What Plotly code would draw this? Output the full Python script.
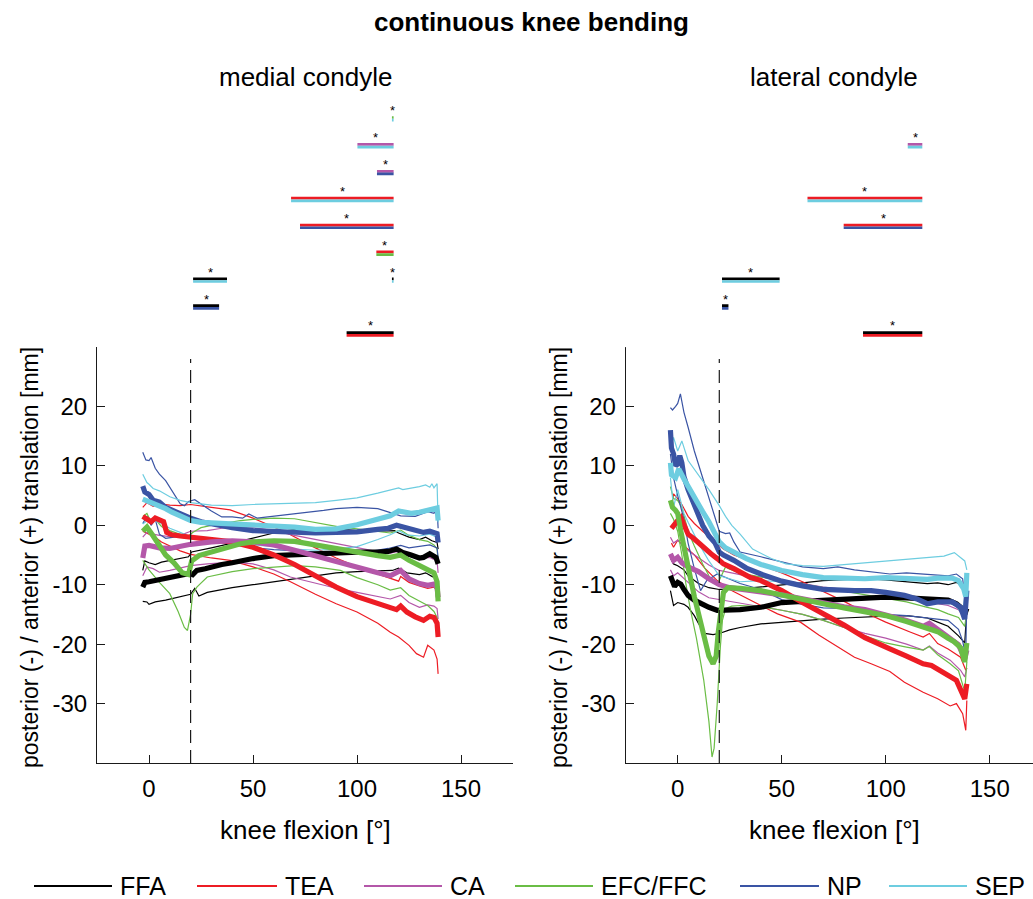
import plotly.graph_objects as go

# ---------------------------------------------------------------------------
# Figure geometry (pixels) and styling
# ---------------------------------------------------------------------------
W, H = 1033, 899
FONT = "Liberation Sans, Arial, Helvetica, sans-serif"
AXIS_COLOR = "#1a1a1a"

METHODS = ["FFA", "TEA", "CA", "EFC/FFC", "NP", "SEP"]
COLORS = {
    "FFA": "#000000",
    "TEA": "#ED1C24",
    "CA": "#B457A9",
    "EFC/FFC": "#6ABD45",
    "NP": "#3A54A4",
    "SEP": "#6DCDE0",
}

X_TICKS = [0, 50, 100, 150]
Y_TICKS = [-30, -20, -10, 0, 10, 20]
Y_RANGE = [-40, 30]
ONSET_FLEXION = 20      # dashed marker position [deg]
ONSET_TOP = 28          # upper end of the dashed marker [mm]

# ---------------------------------------------------------------------------
# Medial condyle: (flexion [deg], AP translation [mm]) for mean, +SD, -SD
# ---------------------------------------------------------------------------
med_ffa_mean = [(-3, -10.4), (-2, -9.6), (0, -9.5), (3, -9.3), (6, -9.1), (10, -8.9), (13, -8.7), (16, -8.3),
                (19.5, -8.1), (21, -8.3), (23, -7.6), (27, -7.3), (30, -7.0), (35, -6.6), (40, -6.3), (45, -5.9),
                (50, -5.6), (60, -5.1), (70, -4.9), (80, -4.7), (90, -4.6), (100, -4.5), (110, -4.5), (115, -4.4),
                (119, -4.0), (122, -4.6), (126, -5.0), (130, -5.5), (132, -5.4), (135, -4.8), (138, -5.4), (139, -6.5)]
med_ffa_up = [(-3, -7.6), (-2, -6.0), (0, -6.3), (3, -6.6), (6, -6.2), (10, -5.9), (15, -5.5), (19, -5.3),
              (20.5, -4.5), (25, -4.2), (30, -3.8), (40, -3.0), (50, -2.2), (60, -1.3), (70, -0.7), (80, -0.4),
              (90, -0.6), (100, -0.9), (110, -1.0), (118, -0.9), (120, -1.3), (125, -2.0), (130, -2.4), (133, -2.0),
              (136, -2.6), (138.5, -2.9), (139, -4.0)]
med_ffa_lo = [(-3, -12.8), (-1, -12.9), (0, -13.3), (3, -12.9), (8, -12.6), (12, -12.3), (16, -12.0), (20, -11.6),
              (22, -10.6), (24, -11.9), (28, -11.3), (35, -10.8), (40, -10.5), (50, -10.0), (60, -9.5), (70, -9.0),
              (80, -8.4), (90, -8.0), (100, -7.8), (110, -7.7), (117, -7.6), (120, -7.2), (124, -8.0), (130, -8.3),
              (133, -8.0), (136, -8.6), (138.5, -9.0), (139, -9.8)]

med_tea_mean = [(-3, 1.5), (-1, 1.0), (1, 0.6), (3, 1.2), (5, 1.0), (7, 0.6), (8.5, -1.2), (11, -1.6), (15, -1.8),
                (20, -2.0), (25, -2.1), (30, -2.3), (40, -2.8), (50, -3.7), (60, -5.0), (70, -6.6), (80, -8.5),
                (90, -10.4), (100, -12.0), (110, -13.1), (116, -13.8), (119, -14.2), (121, -13.6), (124, -14.6),
                (128, -15.4), (132, -16.0), (135, -15.3), (137, -15.5), (138.5, -16.5), (139, -18.8)]
med_tea_up = [(-3, 3.0), (-1, 3.8), (2, 3.2), (5, 3.6), (10, 3.4), (15, 3.3), (20, 3.5), (25, 3.3), (30, 3.0),
              (39, 2.6), (50, 1.2), (60, -0.3), (68, -1.6), (80, -3.8), (90, -5.5), (100, -7.0), (110, -8.2),
              (116, -8.9), (120, -9.4), (121, -8.6), (125, -9.6), (130, -10.2), (134, -10.6), (137, -10.4),
              (138.5, -11.0), (139, -12.5)]
med_tea_lo = [(-3, -1.0), (0, -1.5), (3, -2.0), (6, -2.8), (10, -3.5), (15, -4.3), (20, -4.9), (25, -5.2),
              (30, -5.5), (39, -5.9), (50, -7.0), (60, -8.2), (68, -9.5), (80, -11.6), (90, -13.2), (100, -14.6),
              (110, -16.5), (116, -18.0), (120, -18.8), (125, -20.2), (128.6, -21.6), (132, -22.2), (134, -20.2),
              (137, -21.0), (138.5, -22.5), (139, -25.0)]

med_ca_mean = [(-3, -5.5), (-2, -3.5), (0, -3.4), (2, -3.6), (5, -3.8), (10, -3.9), (15, -3.5), (20, -3.2),
               (30, -2.8), (40, -2.6), (50, -2.8), (60, -3.3), (70, -4.2), (80, -5.2), (90, -6.2), (100, -7.1),
               (110, -8.0), (116, -8.5), (119, -8.1), (121, -7.6), (125, -9.0), (130, -9.8), (134, -10.1),
               (137, -9.9), (138.5, -10.5), (139, -12.1)]
med_ca_up = [(-3, -2.0), (-1, -1.2), (2, -1.5), (5, -1.7), (10, -1.9), (15, -1.7), (20, -1.0), (28, -0.9),
             (35, -0.5), (44, -0.3), (50, -0.4), (60, -0.9), (70, -1.7), (80, -2.4), (90, -3.1), (100, -3.8),
             (108, -4.3), (116, -4.7), (121, -4.3), (125, -5.2), (130, -5.6), (135, -5.4), (138.5, -6.0), (139, -8.0)]
med_ca_lo = [(-3, -8.5), (-1, -7.0), (2, -7.3), (5, -7.9), (10, -7.6), (15, -7.2), (20, -6.8), (28, -6.5),
             (40, -6.2), (50, -6.5), (60, -7.5), (68, -8.7), (80, -9.8), (90, -10.6), (100, -11.3), (110, -12.0),
             (116, -12.4), (121, -11.8), (125, -13.0), (130, -13.8), (134, -13.4), (137, -13.6), (138.5, -14.0),
             (139, -15.8)]

med_efc_mean = [(-3, -1.0), (-1, -0.3), (2, -1.8), (5, -3.5), (8, -5.0), (12, -6.3), (16, -8.0), (19, -8.3),
                (20.5, -6.0), (24, -5.1), (30, -4.5), (36, -4.0), (44, -3.1), (50, -2.8), (60, -2.6), (70, -2.7),
                (80, -3.3), (90, -4.1), (100, -4.6), (110, -5.1), (116, -5.4), (121, -5.0), (125, -5.9), (130, -6.8),
                (134, -7.3), (137, -8.0), (138.5, -9.5), (139, -12.8)]
med_efc_up = [(-3, 1.5), (-1, 2.0), (1, 0.5), (3, 1.0), (6, -0.2), (10, -0.9), (15, -1.5), (19, -1.8), (21, -1.2),
              (25, -0.4), (30, 0.0), (40, 0.6), (44, 0.8), (50, 1.0), (60, 1.2), (70, 1.1), (80, 0.5), (92, -0.3),
              (100, -0.6), (110, -1.0), (116, -1.3), (121, -0.8), (125, -1.7), (130, -2.4), (134, -2.7),
              (137, -3.3), (138.5, -4.0), (139, -6.0)]
med_efc_lo = [(-3, -5.9), (0, -7.5), (5, -9.6), (10, -11.5), (14, -14.5), (17, -17.2), (18.5, -17.7), (20, -15.0),
              (21, -11.5), (23, -10.4), (28, -8.7), (40, -7.8), (50, -7.3), (60, -7.0), (70, -6.8), (80, -7.0),
              (92, -7.6), (100, -8.8), (110, -10.0), (116, -10.9), (121, -10.5), (125, -11.8), (130, -12.8),
              (134, -13.5), (137, -14.5), (138.5, -15.5), (139, -17.0)]

med_np_mean = [(-3, 6.6), (-2, 5.6), (0, 5.2), (2, 4.2), (5, 3.9), (8, 3.0), (10, 2.7), (15, 1.9), (20, 1.2),
               (25, 0.6), (30, 0.2), (40, -0.4), (50, -0.9), (60, -1.1), (70, -1.2), (80, -1.3), (90, -1.2),
               (100, -1.1), (110, -0.7), (115, -0.5), (119, 0.0), (121, -0.2), (124, -0.5), (128, -1.0),
               (132, -1.2), (135, -1.0), (138.5, -1.4), (139, -2.9)]
med_np_up = [(-3, 12.3), (-1.5, 11.0), (0, 10.9), (1, 11.4), (3, 9.6), (5, 8.6), (8, 7.5), (10, 6.4), (13, 4.6),
             (15, 3.6), (17, 3.3), (19, 4.0), (22, 4.3), (25, 3.6), (30, 2.4), (35, 1.4), (40, 1.4), (45, 1.2),
             (48, 1.9), (52, 1.2), (60, 1.5), (70, 2.0), (84, 2.5), (90, 2.8), (100, 3.0), (110, 2.8), (115, 2.2),
             (121, 1.6), (128, 1.5), (134, 2.3), (137, 2.0), (138.5, 3.0), (139, -0.5)]
med_np_lo = [(-3, 0.3), (-1, 1.5), (1, 0.0), (3, 1.0), (5, -1.5), (8, -2.2), (12, -2.0), (16, -1.8), (20, -2.0),
             (25, -2.4), (30, -2.6), (36, -2.9), (40, -3.2), (48, -3.7), (60, -4.1), (72, -4.3), (80, -4.5),
             (90, -4.5), (100, -4.4), (108, -4.3), (115, -3.9), (121, -3.4), (125, -3.8), (130, -3.5), (135, -3.3),
             (138.5, -3.8), (139, -5.5)]

med_sep_mean = [(-3, 4.4), (0, 4.0), (3, 3.6), (5, 3.3), (8, 2.8), (11, 2.2), (15, 1.6), (20, 0.8), (25, 0.5),
                (30, 0.4), (40, 0.2), (50, 0.1), (60, 0.0), (70, -0.3), (80, -0.7), (90, -0.6), (100, 0.1),
                (110, 1.0), (116, 1.6), (120, 2.4), (122, 2.2), (126, 2.0), (130, 2.2), (134, 2.5), (137, 2.6),
                (138.5, 2.9), (139, 0.8)]
med_sep_up = [(-3, 8.6), (-1, 7.2), (0, 6.9), (2, 6.2), (5, 5.8), (10, 4.8), (15, 4.2), (20, 3.8), (30, 3.4),
              (40, 3.3), (50, 3.5), (60, 3.6), (70, 3.6), (80, 3.8), (90, 4.2), (100, 4.6), (110, 5.4), (115, 5.8),
              (120, 6.3), (122, 6.0), (126, 6.2), (130, 6.5), (133, 6.8), (135, 6.4), (136, 7.0), (137, 6.3),
              (138.5, 7.0), (139, 0.5)]
med_sep_lo = [(-3, 0.2), (0, 1.0), (5, 0.5), (10, -0.5), (15, -1.2), (20, -2.0), (30, -2.6), (40, -2.9),
              (50, -3.2), (60, -3.6), (70, -4.0), (80, -4.2), (90, -4.0), (100, -3.6), (110, -2.4), (116, -1.6),
              (120, -0.9), (124, -1.6), (130, -1.8), (135, -1.5), (138.5, -2.0), (139, -2.5)]

# ---------------------------------------------------------------------------
# Lateral condyle
# ---------------------------------------------------------------------------
lat_ffa_mean = [(-3.5, -8.5), (-2.5, -9.8), (-1.5, -10.3), (0, -9.6), (1.5, -9.9), (3, -10.8), (5, -11.8),
                (8, -12.6), (10, -13.0), (15, -13.8), (19, -14.3), (25, -14.3), (30, -14.2), (40, -13.8),
                (50, -13.0), (60, -12.8), (70, -12.6), (80, -12.5), (90, -12.3), (100, -12.1), (110, -12.2),
                (120, -12.3), (125, -12.4), (130, -12.6), (134, -13.2), (136, -13.8), (138, -15.0), (139, -14.0)]
lat_ffa_up = [(-3.5, -5.5), (-2, -6.5), (0, -6.8), (3, -7.5), (5, -8.5), (10, -9.8), (15, -10.5), (20, -10.8),
              (30, -10.7), (40, -10.4), (50, -10.0), (60, -9.7), (70, -9.3), (80, -9.1), (90, -9.0), (100, -9.2),
              (110, -9.5), (120, -9.8), (125, -9.7), (130, -10.0), (134, -9.6), (137, -10.3), (139, -13.0)]
lat_ffa_lo = [(-3.5, -11.0), (-2, -13.5), (0, -13.0), (3, -13.3), (5, -13.8), (8, -15.2), (10, -16.5),
              (13, -18.2), (17, -18.4), (20, -18.2), (25, -17.6), (30, -17.2), (40, -16.6), (50, -16.3),
              (60, -16.0), (70, -15.8), (80, -15.6), (90, -15.4), (100, -15.3), (110, -15.2), (120, -15.6),
              (125, -16.3), (130, -17.0), (135, -18.6), (138, -19.8), (139, -14.0)]

lat_tea_mean = [(-3, -0.5), (-1, 0.5), (0, 0.8), (1.5, 1.3), (3, 0.0), (5, -1.5), (8, -2.3), (12, -3.7),
                (16, -4.8), (19, -5.6), (22, -6.5), (27, -7.3), (35, -8.8), (40, -9.3), (50, -11.0), (60, -13.0),
                (70, -14.8), (80, -16.8), (90, -18.9), (97, -19.9), (102, -20.8), (110, -22.0), (118, -23.3),
                (122, -23.6), (128, -24.9), (134, -26.1), (138, -29.2), (139, -26.7)]
lat_tea_up = [(-3, 3.0), (-2, 5.3), (0, 4.5), (2, 3.5), (5, 1.5), (8, 0.3), (12, -1.0), (16, -2.2), (19, -3.1),
              (22, -4.0), (27, -5.0), (35, -6.0), (43, -7.0), (50, -8.0), (60, -9.5), (70, -11.2), (80, -12.8),
              (92, -15.0), (100, -16.3), (112, -18.0), (118, -18.8), (121, -18.2), (125, -19.9), (130, -20.8),
              (136, -22.2), (138.5, -24.4), (139, -24.0)]
lat_tea_lo = [(-3, -3.0), (-2, -3.7), (0, -2.5), (3, -3.5), (8, -5.0), (13, -7.2), (19, -9.3), (25, -10.8),
              (32, -12.1), (40, -13.5), (48, -14.9), (59, -16.3), (68, -18.5), (76, -20.3), (85, -22.2),
              (93, -23.3), (102, -24.6), (109, -26.4), (118, -28.1), (125, -29.2), (131, -30.4), (134, -30.0),
              (137, -31.7), (138.5, -34.5), (139, -29.5)]

lat_ca_mean = [(-3.5, -4.8), (-2, -5.9), (0, -5.4), (2, -6.3), (5, -7.0), (10, -7.8), (15, -9.0), (20, -10.0),
               (25, -10.5), (30, -10.8), (40, -11.2), (50, -11.7), (60, -12.4), (70, -13.1), (80, -13.7),
               (90, -14.2), (100, -15.0), (110, -16.0), (118, -17.0), (121, -16.5), (125, -17.5), (130, -18.8),
               (135, -20.1), (138, -22.5), (139, -21.0)]
lat_ca_up = [(-3.5, -2.0), (-2, -3.0), (0, -2.5), (3, -3.7), (6, -4.5), (10, -5.5), (15, -6.7), (20, -7.6),
             (25, -8.0), (30, -8.3), (40, -8.7), (50, -9.2), (60, -9.8), (70, -10.4), (80, -10.8), (90, -11.0),
             (100, -11.2), (110, -11.9), (120, -12.8), (125, -13.2), (130, -13.5), (135, -14.2), (138, -15.7),
             (139, -13.0)]
lat_ca_lo = [(-3.5, -7.5), (-2, -8.5), (0, -8.0), (3, -9.0), (6, -10.0), (10, -11.2), (15, -12.2), (20, -12.5),
             (25, -12.8), (30, -13.0), (40, -13.6), (50, -14.3), (60, -15.0), (70, -16.0), (80, -17.2),
             (90, -18.2), (100, -19.0), (110, -20.0), (118, -21.0), (121, -20.3), (125, -21.5), (131, -22.7),
             (136, -24.4), (138, -25.5), (139, -24.0)]

lat_efc_mean = [(-3.5, 4.2), (-2.5, 3.0), (-1, 2.5), (0, 2.0), (1.5, -1.0), (3, -4.0), (5, -7.0), (8, -12.0),
                (10, -15.0), (12.5, -19.0), (15, -22.0), (17, -23.3), (18.5, -22.0), (19.5, -18.0), (20.5, -14.5),
                (22, -11.3), (24, -10.5), (30, -10.6), (40, -11.0), (50, -11.8), (60, -12.5), (70, -13.2),
                (80, -13.9), (90, -14.5), (100, -15.2), (110, -16.2), (120, -17.3), (125, -17.9), (130, -19.0),
                (133, -19.6), (136, -20.6), (138, -23.0), (139, -19.8)]
lat_efc_up = [(-3.5, 6.5), (-2, 4.5), (0, 4.2), (2, 3.0), (5, -1.0), (8, -3.5), (12, -6.5), (15, -8.5),
              (17, -9.5), (19, -10.0), (21, -8.5), (23, -7.0), (25, -7.4), (30, -8.0), (40, -8.7), (50, -9.3),
              (60, -9.9), (70, -10.4), (80, -11.0), (90, -11.6), (100, -12.2), (110, -12.9), (120, -13.8),
              (125, -14.2), (130, -14.9), (135, -15.5), (138, -17.0), (139, -14.5)]
lat_efc_lo = [(-3.5, 2.0), (-2, 1.0), (0, -1.0), (2, -5.0), (4, -10.0), (6, -14.0), (9, -19.0), (12.5, -26.0),
              (15, -33.0), (16.5, -39.0), (17.5, -37.5), (19, -30.0), (20.5, -20.5), (21.5, -16.0), (23, -14.0),
              (26, -13.6), (30, -13.5), (40, -13.7), (50, -14.3), (60, -15.0), (70, -16.0), (80, -17.2),
              (90, -18.6), (100, -19.8), (110, -20.5), (118, -21.0), (121, -20.4), (125, -21.8), (131, -23.3),
              (135, -24.5), (138, -28.0), (139, -23.0)]

lat_np_mean = [(-3.5, 16.0), (-3, 13.0), (-2, 12.0), (-1, 10.0), (0, 10.3), (1, 11.7), (2, 10.5), (3, 8.2),
               (5, 6.0), (8, 3.4), (12, 0.0), (15, -1.8), (18, -3.0), (20, -4.5), (22, -5.0), (27, -5.9),
               (33, -7.2), (40, -8.2), (50, -9.4), (60, -10.2), (70, -10.8), (85, -11.0), (93, -11.0),
               (100, -11.3), (109, -11.8), (115, -12.4), (120, -13.2), (125, -12.9), (132, -12.9), (136, -13.8),
               (138, -15.8), (139, -11.0)]
lat_np_up = [(-3.5, 19.8), (-2.5, 19.4), (-1, 20.0), (0, 20.5), (1.3, 22.1), (3, 19.0), (5, 16.5), (8, 12.5),
             (12, 8.0), (15, 4.5), (18, 1.0), (20, -1.0), (23, -1.4), (25, -1.3), (27, -2.8), (30, -4.5),
             (40, -5.3), (50, -6.2), (60, -7.0), (70, -7.3), (77, -7.0), (85, -7.5), (93, -7.8), (102, -8.2),
             (110, -8.0), (120, -8.3), (130, -8.5), (134, -8.2), (137, -9.0), (139, -15.0)]
lat_np_lo = [(-3.5, 12.0), (-2, 8.0), (0, 5.0), (3, 1.0), (5, -3.0), (8, -7.3), (11, -11.0), (14, -9.3),
             (19, -8.2), (25, -9.0), (30, -9.8), (40, -10.8), (50, -12.5), (60, -13.3), (70, -13.9), (80, -14.0),
             (90, -14.5), (100, -15.0), (110, -15.2), (120, -15.6), (130, -16.0), (135, -17.5), (137, -19.5),
             (138.5, -22.0), (139, -11.0)]

lat_sep_mean = [(-3.5, 10.5), (-3, 8.5), (-1, 8.0), (0.5, 9.5), (3, 7.8), (5, 6.5), (8, 4.8), (12, 2.3),
                (15, 0.6), (18, -1.3), (20, -2.8), (23, -3.8), (27, -4.6), (33, -5.6), (40, -6.6), (50, -7.6),
                (60, -8.3), (70, -8.8), (80, -8.9), (90, -9.0), (100, -8.8), (110, -9.0), (120, -9.1),
                (125, -8.9), (132, -8.9), (135, -9.3), (137.5, -10.7), (138.5, -12.0), (139, -8.0)]
lat_sep_up = [(-3.5, 13.0), (-2, 14.8), (0, 12.5), (2, 14.2), (5, 10.9), (10, 8.5), (15, 6.0), (20, 3.3),
              (23, 1.5), (26, 0.0), (30, -1.5), (36, -4.0), (45, -5.6), (52, -6.5), (60, -6.8), (70, -6.9),
              (80, -6.6), (90, -6.3), (100, -6.1), (110, -5.8), (120, -5.5), (128, -5.2), (133, -4.6),
              (136, -5.4), (138, -6.0), (139, -7.5)]
lat_sep_lo = [(-3.5, 8.0), (-2, 3.0), (0, 6.0), (3, 2.0), (5, 0.5), (10, -3.0), (15, -6.0), (20, -8.5),
              (25, -9.0), (30, -9.5), (40, -9.3), (50, -9.5), (60, -10.0), (70, -10.6), (80, -11.1), (90, -11.3),
              (100, -11.2), (110, -11.8), (120, -12.5), (128, -12.8), (133, -13.2), (137, -15.0), (139, -9.5)]

MEDIAL = {
    "FFA": (med_ffa_mean, med_ffa_up, med_ffa_lo),
    "TEA": (med_tea_mean, med_tea_up, med_tea_lo),
    "CA": (med_ca_mean, med_ca_up, med_ca_lo),
    "EFC/FFC": (med_efc_mean, med_efc_up, med_efc_lo),
    "NP": (med_np_mean, med_np_up, med_np_lo),
    "SEP": (med_sep_mean, med_sep_up, med_sep_lo),
}
LATERAL = {
    "FFA": (lat_ffa_mean, lat_ffa_up, lat_ffa_lo),
    "TEA": (lat_tea_mean, lat_tea_up, lat_tea_lo),
    "CA": (lat_ca_mean, lat_ca_up, lat_ca_lo),
    "EFC/FFC": (lat_efc_mean, lat_efc_up, lat_efc_lo),
    "NP": (lat_np_mean, lat_np_up, lat_np_lo),
    "SEP": (lat_sep_mean, lat_sep_up, lat_sep_lo),
}

# ---------------------------------------------------------------------------
# Significant differences between method pairs (row 1 = bottom row)
# ---------------------------------------------------------------------------
SIG_PAIRS = [("FFA", "TEA"), ("FFA", "NP"), ("FFA", "SEP"), ("TEA", "EFC/FFC"), ("TEA", "NP"),
             ("TEA", "SEP"), ("CA", "NP"), ("CA", "SEP"), ("EFC/FFC", "SEP")]
med_sig_row = [1, 2, 3, 3, 4, 5, 6, 7, 8, 9]
med_sig_start = [95.0, 21.2, 21.2, 116.8, 109.3, 72.6, 68.3, 109.6, 100.2, 116.8]
med_sig_end = [117.6, 33.7, 37.5, 117.6, 117.6, 117.6, 117.6, 117.6, 117.6, 117.6]
lat_sig_row = [1, 2, 3, 5, 6, 8]
lat_sig_start = [89.1, 21.3, 21.3, 79.8, 62.4, 110.6]
lat_sig_end = [117.6, 24.4, 49.0, 117.6, 117.6, 117.6]


def xs(pts):
    return [p[0] for p in pts]


def ys(pts):
    return [p[1] for p in pts]


def fx(px):
    return px / W


def fy(px):
    return 1 - px / H


fig = go.Figure()

# panel axes: (x axis id, y axis id, sig x axis id, sig y axis id)
PANELS = [("x", "y", "x3", "y3", MEDIAL, med_sig_row, med_sig_start, med_sig_end),
          ("x2", "y2", "x4", "y4", LATERAL, lat_sig_row, lat_sig_start, lat_sig_end)]

for xa, ya, sxa, sya, data, srow, sstart, send in PANELS:
    # +/- SD lines first, then the means on top
    for m in METHODS:
        _, up, lo = data[m]
        for band in (up, lo):
            fig.add_trace(go.Scatter(x=xs(band), y=ys(band), mode="lines", xaxis=xa, yaxis=ya,
                                     line=dict(color=COLORS[m], width=1.2), hoverinfo="skip"))
    for m in METHODS:
        mean = data[m][0]
        fig.add_trace(go.Scatter(x=xs(mean), y=ys(mean), mode="lines", xaxis=xa, yaxis=ya,
                                 line=dict(color=COLORS[m], width=5.2), name=m))
    # dashed onset marker
    fig.add_shape(type="line", xref=xa, yref=ya, x0=ONSET_FLEXION, x1=ONSET_FLEXION,
                  y0=Y_RANGE[0], y1=ONSET_TOP, line=dict(color="#1a1a1a", width=1.2, dash="13px,7px"))
    # significance bars: first method colour on top, second below
    for r, s, e in zip(srow, sstart, send):
        top_m, bot_m = SIG_PAIRS[r - 1]
        for m, off in ((top_m, 0.05), (bot_m, -0.05)):
            fig.add_trace(go.Scatter(x=[s, e], y=[r + off, r + off], mode="lines", xaxis=sxa, yaxis=sya,
                                     line=dict(color=COLORS[m], width=2.7), hoverinfo="skip"))
        fig.add_annotation(x=(s + e) / 2, y=r, xref=sxa, yref=sya, text="*", showarrow=False,
                           yshift=8, font=dict(family=FONT, size=13, color="#000000"))

# ---------------------------------------------------------------------------
# Axes
# ---------------------------------------------------------------------------
LEFT_PX, RIGHT_PX = 97, 513
LEFT2_PX = 625.7
TOP_PX, BOTTOM_PX = 347, 763
PX_PER_DEG = (RIGHT_PX - LEFT_PX) / 200.0
x2_max = -25 + (W - LEFT2_PX) / PX_PER_DEG

axis_common = dict(showline=True, linecolor=AXIS_COLOR, linewidth=1, mirror=False, showgrid=False,
                   zeroline=False, ticks="inside", ticklen=8, tickwidth=1, tickcolor=AXIS_COLOR,
                   tickfont=dict(family=FONT, size=24, color="#000000"), ticklabelstandoff=4)
xt = dict(tickmode="array", tickvals=X_TICKS, ticktext=[str(v) for v in X_TICKS])
yt = dict(tickmode="array", tickvals=Y_TICKS, ticktext=[str(v) for v in Y_TICKS])

SIG_TOP_PX, SIG_BOTTOM_PX = 105.4, 347.4

fig.update_layout(
    xaxis=dict(domain=[fx(LEFT_PX), fx(RIGHT_PX)], range=[-25, 175], anchor="y", **axis_common, **xt),
    yaxis=dict(domain=[fy(BOTTOM_PX), fy(TOP_PX)], range=Y_RANGE, anchor="x", **axis_common, **yt),
    xaxis2=dict(domain=[fx(LEFT2_PX), 1.0], range=[-25, x2_max], anchor="y2", **axis_common, **xt),
    yaxis2=dict(domain=[fy(BOTTOM_PX), fy(TOP_PX)], range=Y_RANGE, anchor="x2", **axis_common, **yt),
    xaxis3=dict(domain=[fx(LEFT_PX), fx(RIGHT_PX)], range=[-25, 175], anchor="y3", visible=False),
    yaxis3=dict(domain=[fy(SIG_BOTTOM_PX), fy(SIG_TOP_PX)], range=[0.5, 9.5], anchor="x3", visible=False),
    xaxis4=dict(domain=[fx(LEFT2_PX), 1.0], range=[-25, x2_max], anchor="y4", visible=False),
    yaxis4=dict(domain=[fy(SIG_BOTTOM_PX), fy(SIG_TOP_PX)], range=[0.5, 9.5], anchor="x4", visible=False),
    width=W, height=H, margin=dict(l=0, r=0, t=0, b=0),
    paper_bgcolor="white", plot_bgcolor="white", showlegend=False,
    font=dict(family=FONT, color="#000000"),
)

# ---------------------------------------------------------------------------
# Titles
# ---------------------------------------------------------------------------
def label(text, x_px, y_px, size=24, angle=0, bold=False):
    fig.add_annotation(text=f"<b>{text}</b>" if bold else text, x=fx(x_px), y=fy(y_px),
                       xref="paper", yref="paper", showarrow=False, textangle=angle,
                       xanchor="center", yanchor="middle", font=dict(family=FONT, size=size, color="#000000"))


label("continuous knee bending", 531, 22, size=26, bold=True)
label("medial condyle", 305, 77, size=26)
label("lateral condyle", 834, 77, size=26)
label("knee flexion [°]", 305, 830, size=26)
label("knee flexion [°]", 834, 830, size=26)
YTITLE = "posterior (-) / anterior (+) translation [mm]"
label(YTITLE, 30, 558, size=23, angle=-90)
label(YTITLE, 559, 558, size=23, angle=-90)

# ---------------------------------------------------------------------------
# Legend row along the bottom
# ---------------------------------------------------------------------------
LEGEND_Y_PX = 886
legend_line_start = [34, 197, 364, 515, 740, 889]
legend_line_end = [112, 277, 442, 593, 819, 967]
for m, x0, x1 in zip(METHODS, legend_line_start, legend_line_end):
    fig.add_shape(type="line", xref="paper", yref="paper", x0=fx(x0), x1=fx(x1),
                  y0=fy(LEGEND_Y_PX), y1=fy(LEGEND_Y_PX), line=dict(color=COLORS[m], width=2.2))
    fig.add_annotation(text=m, x=fx(x1 + 6), y=fy(LEGEND_Y_PX), xref="paper", yref="paper",
                       showarrow=False, xanchor="left", yanchor="middle",
                       font=dict(family=FONT, size=25, color="#000000"))

fig.write_html("out.html")
